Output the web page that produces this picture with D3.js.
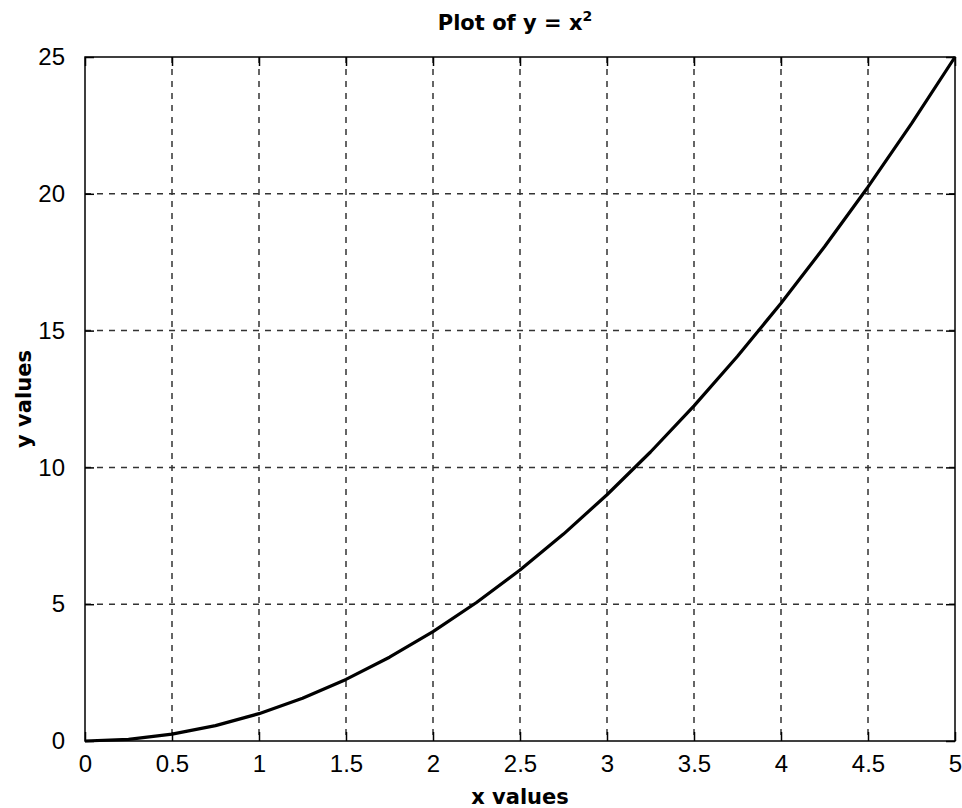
<!DOCTYPE html>
<html>
<head>
<meta charset="utf-8">
<script src="https://cdn.jsdelivr.net/npm/d3@7"></script>
<style>
  body { margin: 0; background: #fff; }
  svg { display: block; }
  .tick-label { font-family: "Liberation Sans", Arial, sans-serif; font-size: 24px; fill: #000; }
  .bold-label { font-family: "DejaVu Sans", sans-serif; font-weight: bold; font-size: 21px; fill: #000; }
</style>
</head>
<body>
<svg id="chart" width="962" height="808"></svg>
<script>
// data (y = x^2)
var xValues = [0, 0.25, 0.5, 0.75, 1, 1.25, 1.5, 1.75, 2, 2.25, 2.5, 2.75, 3, 3.25, 3.5, 3.75, 4, 4.25, 4.5, 4.75, 5];
var yValues = [0, 0.0625, 0.25, 0.5625, 1, 1.5625, 2.25, 3.0625, 4, 5.0625, 6.25, 7.5625, 9, 10.5625, 12.25, 14.0625, 16, 18.0625, 20.25, 22.5625, 25];
var xTicks = [0, 0.5, 1, 1.5, 2, 2.5, 3, 3.5, 4, 4.5, 5];
var yTicks = [0, 5, 10, 15, 20, 25];

// plot box edges (note: "top" is taken by window.top, so use other names)
var plotLeft = 85, plotRight = 955, plotTop = 57, plotBottom = 741;
var tickLen = 9;

var svg = d3.select("#chart");

var x = d3.scaleLinear().domain([0, 5]).range([plotLeft, plotRight]);
var y = d3.scaleLinear().domain([0, 25]).range([plotBottom, plotTop]);

// dashed grid
svg.append("g").selectAll("line")
    .data(xTicks.slice(1, -1))
    .enter().append("line")
    .attr("x1", d => x(d)).attr("x2", d => x(d))
    .attr("y1", plotTop).attr("y2", plotBottom)
    .attr("stroke", "#333").attr("stroke-width", 1.5)
    .attr("stroke-dasharray", "6,6");

svg.append("g").selectAll("line")
    .data(yTicks.slice(1, -1))
    .enter().append("line")
    .attr("x1", plotLeft).attr("x2", plotRight)
    .attr("y1", d => y(d)).attr("y2", d => y(d))
    .attr("stroke", "#333").attr("stroke-width", 1.5)
    .attr("stroke-dasharray", "6,6");

// the curve
var line = d3.line()
    .x((d, i) => x(xValues[i]))
    .y(d => y(d));

svg.append("path")
    .datum(yValues)
    .attr("d", line)
    .attr("fill", "none")
    .attr("stroke", "#000")
    .attr("stroke-width", 3.2)
    .attr("stroke-linejoin", "round");

// ticks on all four sides, pointing inward
var bottomAxis = d3.axisBottom(x).tickValues(xTicks).tickSize(-tickLen).tickFormat(d3.format("")).tickPadding(14);
var topAxis = d3.axisTop(x).tickValues(xTicks).tickSize(-tickLen).tickFormat("");
var leftAxis = d3.axisLeft(y).tickValues(yTicks).tickSize(-tickLen).tickFormat(d3.format("")).tickPadding(20);
var rightAxis = d3.axisRight(y).tickValues(yTicks).tickSize(-tickLen).tickFormat("");

function styleAxis(g) {
    g.select(".domain").remove();
    g.selectAll(".tick line").attr("stroke", "#000").attr("stroke-width", 1.5);
    g.selectAll(".tick text").attr("class", "tick-label");
    g.attr("font-family", null).attr("font-size", null);
}

svg.append("g").attr("transform", "translate(0," + plotBottom + ")").call(bottomAxis).call(styleAxis);
svg.append("g").attr("transform", "translate(0," + plotTop + ")").call(topAxis).call(styleAxis);
svg.append("g").attr("transform", "translate(" + plotLeft + ",0)").call(leftAxis).call(styleAxis);
svg.append("g").attr("transform", "translate(" + plotRight + ",0)").call(rightAxis).call(styleAxis);

// box
svg.append("rect")
    .attr("x", plotLeft).attr("y", plotTop)
    .attr("width", plotRight - plotLeft).attr("height", plotBottom - plotTop)
    .attr("fill", "none").attr("stroke", "#000").attr("stroke-width", 1.5);

// title with superscript
var title = svg.append("text")
    .attr("class", "bold-label")
    .attr("x", (plotLeft + plotRight) / 2 - 5).attr("y", 30)
    .attr("text-anchor", "middle");
title.append("tspan").text("Plot of y = x");
title.append("tspan").attr("dy", -9).attr("font-size", "14px").text("2");

svg.append("text")
    .attr("class", "bold-label")
    .attr("x", (plotLeft + plotRight) / 2).attr("y", 804)
    .attr("text-anchor", "middle")
    .text("x values");

svg.append("text")
    .attr("class", "bold-label")
    .attr("transform", "translate(31," + ((plotTop + plotBottom) / 2) + ") rotate(-90)")
    .attr("text-anchor", "middle")
    .text("y values");
</script>
</body>
</html>
